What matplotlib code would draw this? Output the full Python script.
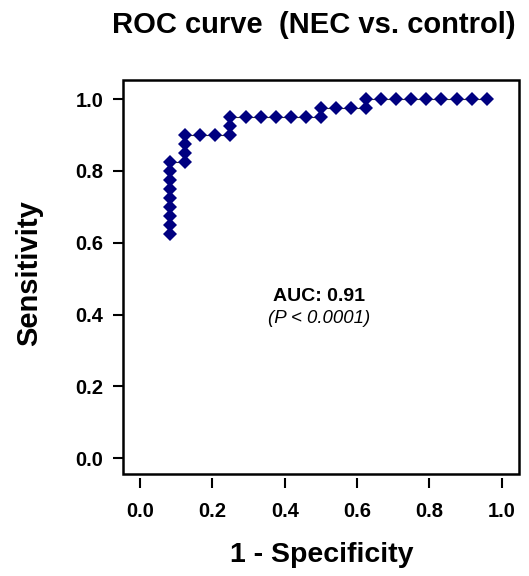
import matplotlib
matplotlib.use("Agg")
import matplotlib.pyplot as plt
from matplotlib.patches import Rectangle

plt.rcParams['font.family'] = ['Liberation Sans', 'DejaVu Sans']

# ROC points (1 - specificity, sensitivity)
fpr = [0.0833, 0.0833, 0.0833, 0.0833, 0.0833, 0.0833, 0.0833, 0.0833, 0.0833,
       0.125, 0.125, 0.125, 0.125,
       0.1667, 0.2083,
       0.25, 0.25, 0.25,
       0.2917, 0.3333, 0.375, 0.4167, 0.4583,
       0.5, 0.5,
       0.5417, 0.5833,
       0.625, 0.625,
       0.6667, 0.7083, 0.75, 0.7917, 0.8333, 0.875, 0.9167, 0.9583]
tpr = [0.625, 0.65, 0.675, 0.7, 0.725, 0.75, 0.775, 0.8, 0.825,
       0.825, 0.85, 0.875, 0.9,
       0.9, 0.9,
       0.9, 0.925, 0.95,
       0.95, 0.95, 0.95, 0.95, 0.95,
       0.95, 0.975,
       0.975, 0.975,
       0.975, 1.0,
       1.0, 1.0, 1.0, 1.0, 1.0, 1.0, 1.0, 1.0]

ticks = [0.0, 0.2, 0.4, 0.6, 0.8, 1.0]
tick_labels = ['0.0', '0.2', '0.4', '0.6', '0.8', '1.0']
auc_text = 'AUC: 0.91'
p_text = '(P < 0.0001)'

fig = plt.figure(figsize=(5.29, 5.76), dpi=100)
ax = fig.add_axes([0.2325, 0.1771, 0.7495, 0.684])

# box drawn by hand, bottom ticks sit a little below it
# (spine position first: it resets the axis)
for s in ax.spines.values():
    s.set_visible(False)
ax.spines['bottom'].set_position(('outward', 3))
ax.add_patch(Rectangle((0, 0), 1, 1, transform=ax.transAxes, fill=False,
                       lw=1.8, edgecolor='black', clip_on=False, zorder=5))

ax.plot(fpr, tpr, color='#333333', lw=0.8, zorder=2)
ax.plot(fpr, tpr, ls='none', marker='D', ms=7.3, color='#000080',
        markeredgewidth=0, zorder=3)

ax.set_xlim(-0.047, 1.049)
ax.set_ylim(-0.044, 1.053)

ax.set_xticks(ticks)
ax.set_xticklabels(tick_labels)
ax.set_yticks(ticks)
ax.set_yticklabels(tick_labels)

for lab in ax.get_xticklabels() + ax.get_yticklabels():
    lab.set_fontweight('bold')
    lab.set_fontsize(14.5)

ax.tick_params(axis='both', direction='out', length=7, width=1.5, color='black')
ax.tick_params(axis='x', pad=10)
ax.tick_params(axis='y', pad=7)

ax.set_xlabel('1 - Specificity', fontsize=20.5, fontweight='bold')
ax.set_ylabel('Sensitivity', fontsize=21, fontweight='bold')
ax.xaxis.set_label_coords(0.502, -0.172)
ax.yaxis.set_label_coords(-0.202, 0.51)

ax.text(0.494, 0.449, auc_text, ha='center', va='center', fontsize=14,
        fontweight='bold')
ax.text(0.494, 0.390, p_text, ha='center', va='center', fontsize=13.4,
        fontstyle='italic')

fig.text(314 / 529, 1 - 33 / 576, 'ROC curve  (NEC vs. control)',
         ha='center', va='baseline', fontsize=21, fontweight='bold')

fig.savefig('out.png', dpi=100)
